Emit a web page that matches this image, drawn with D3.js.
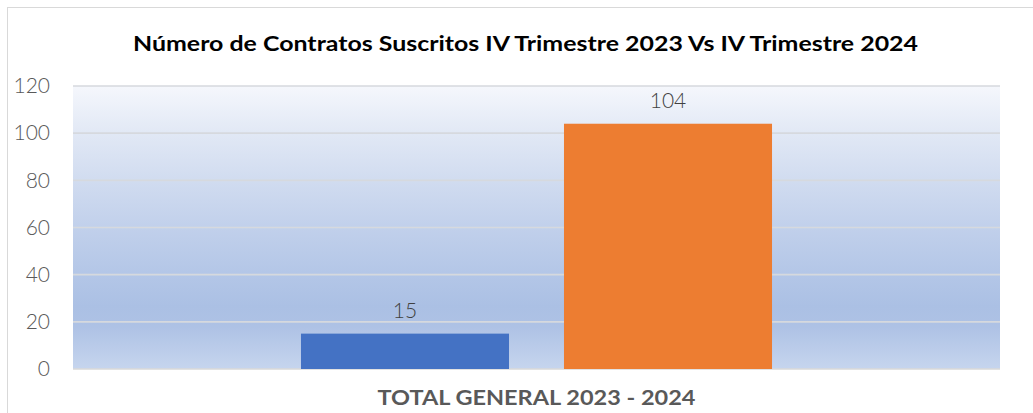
<!DOCTYPE html>
<html><head><meta charset="utf-8">
<script src="https://cdn.jsdelivr.net/npm/d3@7/dist/d3.min.js"></script>
<style>html,body{margin:0;padding:0;background:#fff;}</style>
</head><body>
<svg id="c" width="1033" height="413"></svg>
<script>
const title = "Número de Contratos Suscritos IV Trimestre 2023 Vs IV Trimestre 2024";
const categories = ["TOTAL GENERAL 2023 - 2024"];
const series = ["IV Trimestre 2023", "IV Trimestre 2024"];
const values = [15, 104];
const colors = ["#4472C4", "#ED7D31"];
const yTicks = [0, 20, 40, 60, 80, 100, 120];

const svg = d3.select("#c");
const W = 1033, H = 413;
const m = {left: 73, right: 33, top: 86, bottom: 44};
const pw = W - m.left - m.right, ph = H - m.top - m.bottom;

// chart border
svg.append("rect").attr("x", 7.5).attr("y", 7.5).attr("width", W + 10).attr("height", H + 10)
  .attr("fill", "none").attr("stroke", "#D9D9D9").attr("stroke-width", 1);

const defs = svg.append("defs");
const grad = defs.append("linearGradient").attr("id", "bg").attr("x1", 0).attr("y1", 0).attr("x2", 0).attr("y2", 1);
[[0, "#F5F7FC"], [0.17, "#E1E8F5"], [0.33, "#D1DCF0"], [0.5, "#C1D0EB"], [0.67, "#B3C6E7"], [0.78, "#ABC0E4"], [0.85, "#AEC2E5"], [1, "#C6D5EE"]]
  .forEach(([o, c]) => grad.append("stop").attr("offset", o).attr("stop-color", c));

const g = svg.append("g").attr("transform", `translate(${m.left},${m.top})`);
g.append("rect").attr("width", pw).attr("height", ph).attr("fill", "url(#bg)");

const y = d3.scaleLinear().domain([0, 120]).range([ph, 0]);
const x0 = d3.scaleBand().domain(categories).range([0, pw]).paddingInner(0).paddingOuter(0.484);
const x1 = d3.scaleBand().domain(series).range([0, x0.bandwidth()]).paddingInner(0.209).paddingOuter(0);

// gridlines
g.selectAll(".grid").data(yTicks).join("line")
  .attr("x1", 0).attr("x2", pw).attr("y1", d => y(d)).attr("y2", d => y(d))
  .attr("stroke", d => d === 0 ? "#D9D9D9" : "#D6D9DE").attr("stroke-width", 1.6);

// y axis labels
const yAxis = d3.axisLeft(y).tickValues(yTicks).tickSize(0).tickPadding(23);
const ya = g.append("g").call(yAxis);
ya.select(".domain").remove();
ya.selectAll("text").attr("font-family", "Lato, 'DejaVu Sans', sans-serif").attr("font-size", 21)
  .attr("font-weight", 300).attr("fill", "#595959");

// bars
const grp = g.selectAll(".cat").data(categories).join("g").attr("transform", d => `translate(${x0(d)},0)`);
grp.selectAll("rect").data(series.map((s, i) => ({s, v: values[i], c: colors[i]}))).join("rect")
  .attr("x", d => x1(d.s)).attr("width", x1.bandwidth())
  .attr("y", d => y(d.v)).attr("height", d => ph - y(d.v)).attr("fill", d => d.c);
grp.selectAll("text.lbl").data(series.map((s, i) => ({s, v: values[i]}))).join("text")
  .attr("class", "lbl").attr("x", d => x1(d.s) + x1.bandwidth() / 2).attr("y", d => y(d.v) - 16)
  .attr("text-anchor", "middle").attr("font-family", "Lato, 'DejaVu Sans', sans-serif")
  .attr("font-size", 21).attr("font-weight", 300).attr("fill", "#404040").text(d => d.v);

// x axis label
const xAxis = d3.axisBottom(x0).tickSize(0).tickPadding(22);
const xa = g.append("g").attr("transform", `translate(0,${ph})`).call(xAxis);
xa.select(".domain").remove();
xa.selectAll("text").attr("font-family", "Lato, 'DejaVu Sans', sans-serif").attr("font-size", 20)
  .attr("font-weight", 700).attr("fill", "#595959")
  .attr("textLength", 318).attr("lengthAdjust", "spacingAndGlyphs");

// title
svg.append("text").attr("x", 525.5).attr("y", 51).attr("text-anchor", "middle")
  .attr("font-family", "Lato, 'DejaVu Sans', sans-serif").attr("font-size", 21).attr("font-weight", 700)
  .attr("fill", "#000").attr("textLength", 785).attr("lengthAdjust", "spacingAndGlyphs").text(title);
</script>
</body></html>
